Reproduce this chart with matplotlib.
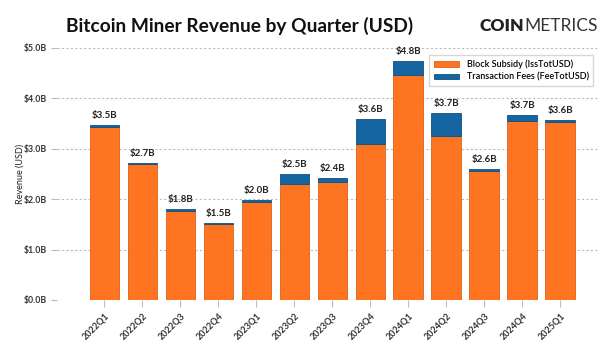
import matplotlib
matplotlib.use("Agg")
import matplotlib.pyplot as plt
import numpy as np

plt.rcParams['font.family'] = ['Lato', 'DejaVu Sans']

quarters = ['2022Q1', '2022Q2', '2022Q3', '2022Q4', '2023Q1', '2023Q2', '2023Q3',
            '2023Q4', '2024Q1', '2024Q2', '2024Q3', '2024Q4', '2025Q1']
# billions USD
subsidy = [3.43, 2.69, 1.77, 1.50, 1.94, 2.31, 2.35, 3.10, 4.47, 3.25, 2.55, 3.55, 3.53]
fees = [0.04, 0.03, 0.03, 0.03, 0.04, 0.19, 0.07, 0.49, 0.28, 0.45, 0.05, 0.12, 0.04]
totals_label = ['$3.5B', '$2.7B', '$1.8B', '$1.5B', '$2.0B', '$2.5B', '$2.4B',
                '$3.6B', '$4.8B', '$3.7B', '$2.6B', '$3.7B', '$3.6B']
yticks = [0, 1, 2, 3, 4, 5]

orange = '#ff7420'
blue = '#1565a3'

fig = plt.figure(figsize=(6, 3.5), dpi=100)
ax = fig.add_axes([0.095, 0.143, 0.902, 0.72])

x = np.arange(len(quarters))
sub = np.array(subsidy)
fee = np.array(fees)
width = 0.78
ax.bar(x, sub, width, color=orange, edgecolor='#d9621a', linewidth=0.6,
       label='Block Subsidy (IssTotUSD)', zorder=3)
ax.bar(x, fee, width, bottom=sub, color=blue, edgecolor='#0f4f80', linewidth=0.6,
       label='Transaction Fees (FeeTotUSD)', zorder=3)

for i in range(len(x)):
    ax.text(x[i], sub[i] + fee[i] + 0.1, totals_label[i], ha='center', va='bottom',
            fontsize=7, fontweight='bold', color='#222222')

ax.set_xlim(-1.25, 13.0)
ax.set_ylim(0, 5.0)
ax.set_yticks(yticks)
ax.set_yticklabels(['$%.1fB' % v for v in yticks], fontsize=6.3, fontweight='bold', color='#333333')
ax.set_xticks(x)
ax.set_xticklabels(quarters, rotation=45, ha='right', rotation_mode='anchor',
                   fontsize=6.5, fontweight='bold', color='#333333')
ax.tick_params(axis='y', length=4, color='#bbbbbb', pad=3)
ax.tick_params(axis='x', length=5, color='#bbbbbb', pad=3)
ax.grid(axis='y', linestyle=(0, (2, 2)), color='#bbbbbb', linewidth=0.8, zorder=0)
for s in ax.spines.values():
    s.set_visible(False)
ax.set_ylabel('Revenue (USD)', fontsize=6.5, color='#222222')
ax.yaxis.set_label_coords(-0.06, 0.5)

leg = ax.legend(loc='upper right', bbox_to_anchor=(0.999, 0.99), fontsize=6.5, frameon=True,
                fancybox=False, edgecolor='#cccccc', handlelength=2.8, handleheight=0.6,
                borderpad=0.5, labelspacing=0.4)
for t in leg.get_texts():
    t.set_fontweight('semibold')

fig.text(0.40, 0.925, 'Bitcoin Miner Revenue by Quarter (USD)', ha='center', va='center',
         fontsize=13.8, fontweight='bold', color='#111111')
coin = fig.text(0.80, 0.925, 'COIN', ha='left', va='center', fontsize=12.5,
                fontweight='heavy', color='#222222')
fig.canvas.draw()
bb = coin.get_window_extent().transformed(fig.transFigure.inverted())
fig.text(bb.x1, 0.925, 'METRICS', ha='left', va='center', fontsize=12.5,
         fontweight='normal', color='#333333')

fig.savefig('out.png', dpi=100)
